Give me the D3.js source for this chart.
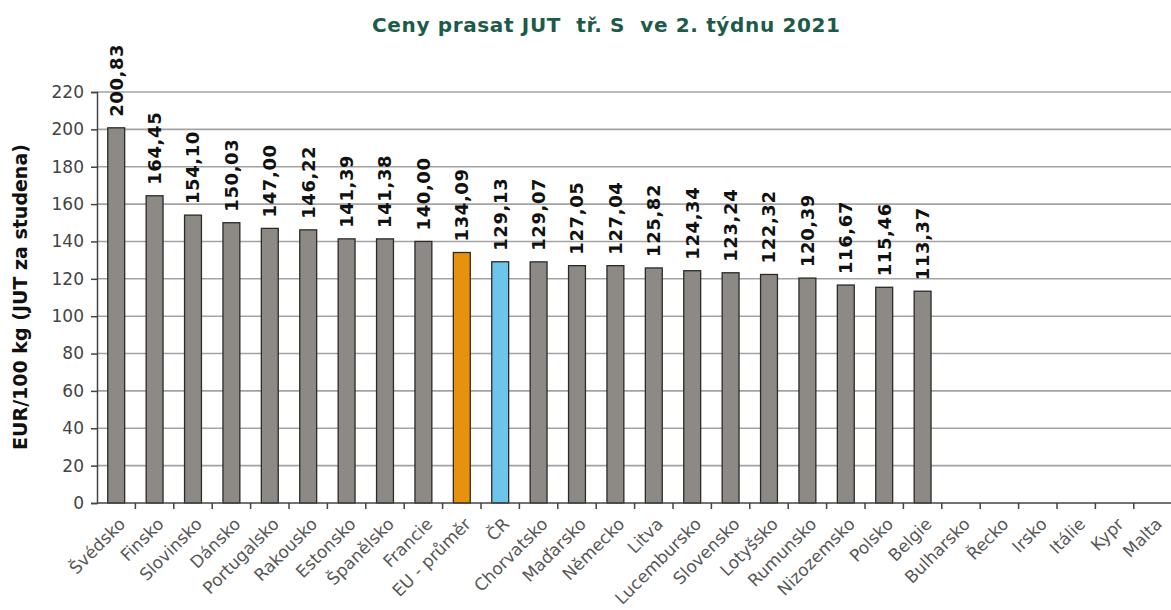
<!DOCTYPE html>
<html>
<head>
<meta charset="utf-8">
<script src="https://cdn.jsdelivr.net/npm/d3@7"></script>
<style>
  body { margin: 0; background: #fff; }
  svg { display: block; }
</style>
</head>
<body>
<script>
var width = 1171,
    height = 610;

var title = "Ceny prasat JUT  tř. S  ve 2. týdnu 2021";
var yTitle = "EUR/100 kg (JUT za studena)";

var countries = ["Švédsko", "Finsko", "Slovinsko", "Dánsko", "Portugalsko", "Rakousko",
    "Estonsko", "Španělsko", "Francie", "EU - průměr", "ČR", "Chorvatsko", "Maďarsko",
    "Německo", "Litva", "Lucembursko", "Slovensko", "Lotyšsko", "Rumunsko", "Nizozemsko",
    "Polsko", "Belgie", "Bulharsko", "Řecko", "Irsko", "Itálie", "Kypr", "Malta"];

var prices = [200.83, 164.45, 154.10, 150.03, 147.00, 146.22, 141.39, 141.38, 140.00,
    134.09, 129.13, 129.07, 127.05, 127.04, 125.82, 124.34, 123.24, 122.32, 120.39,
    116.67, 115.46, 113.37, null, null, null, null, null, null];

var yTicks = [0, 20, 40, 60, 80, 100, 120, 140, 160, 180, 200, 220];

var margin = {top: 92, left: 97, bottom: 107};

var x = d3.scaleBand()
    .domain(countries)
    .range([margin.left, margin.left + 38.4 * countries.length]);

var y = d3.scaleLinear()
    .domain([0, 220])
    .range([height - margin.bottom, margin.top]);

var barW = x.bandwidth() * 0.44;

function barColor(c) {
    if (c === "EU - průměr") return "#e8910c";
    if (c === "ČR") return "#6ec5e9";
    return "#8d8a85";
}

var cz = d3.formatLocale({decimal: ",", thousands: " ", grouping: [3], currency: ["", " €"]});
var fmt = cz.format(".2f");

var svg = d3.select("body").append("svg")
    .attr("width", width)
    .attr("height", height);

// title
svg.append("text")
    .attr("x", 606)
    .attr("y", 32)
    .attr("text-anchor", "middle")
    .style("white-space", "pre")
    .attr("textLength", 468)
    .attr("lengthAdjust", "spacing")
    .attr("font-family", "DejaVu Sans")
    .attr("font-weight", "bold")
    .attr("font-size", 20)
    .attr("fill", "#1c5b49")
    .text(title);

// gridlines
svg.append("g")
    .selectAll("line")
    .data(yTicks.filter(function(d) { return d > 0; }))
    .enter().append("line")
    .attr("x1", margin.left)
    .attr("x2", width)
    .attr("y1", function(d) { return y(d); })
    .attr("y2", function(d) { return y(d); })
    .attr("stroke", "#a3a3a3")
    .attr("stroke-width", 1.6);

// bars
svg.append("g")
    .selectAll("rect")
    .data(countries.filter(function(c, i) { return prices[i] != null; }))
    .enter().append("rect")
    .attr("x", function(c) { return x(c) + (x.bandwidth() - barW) / 2; })
    .attr("y", function(c) { return y(prices[countries.indexOf(c)]); })
    .attr("width", barW)
    .attr("height", function(c) { return y(0) - y(prices[countries.indexOf(c)]); })
    .attr("fill", barColor)
    .attr("stroke", "#2a2a2a")
    .attr("stroke-width", 1.3);

// value labels
svg.append("g")
    .selectAll("text")
    .data(countries.filter(function(c, i) { return prices[i] != null; }))
    .enter().append("text")
    .attr("transform", function(c) {
        var v = prices[countries.indexOf(c)];
        return "translate(" + (x(c) + x.bandwidth() / 2) + "," + (y(v) - 11) + ") rotate(-90)";
    })
    .attr("dy", "0.36em")
    .attr("font-family", "DejaVu Sans")
    .attr("font-weight", "bold")
    .attr("font-size", 18)
    .attr("letter-spacing", 0.6)
    .attr("fill", "#111")
    .text(function(c) { return fmt(prices[countries.indexOf(c)]); });

// y axis
var yAxis = svg.append("g")
    .attr("transform", "translate(" + margin.left + ",0)")
    .call(d3.axisLeft(y).tickValues(yTicks).tickSize(6).tickPadding(7));
yAxis.select(".domain").attr("stroke", "#444").attr("stroke-width", 1.5);
yAxis.selectAll(".tick line").attr("stroke", "#444").attr("stroke-width", 1.5);
yAxis.selectAll(".tick text")
    .attr("font-family", "DejaVu Sans")
    .attr("font-size", 17)
    .attr("fill", "#444");

// x axis
svg.append("line")
    .attr("x1", margin.left)
    .attr("x2", width)
    .attr("y1", y(0))
    .attr("y2", y(0))
    .attr("stroke", "#444")
    .attr("stroke-width", 1.5);

svg.append("g")
    .selectAll("line")
    .data(countries)
    .enter().append("line")
    .attr("x1", function(c) { return x(c) + x.bandwidth(); })
    .attr("x2", function(c) { return x(c) + x.bandwidth(); })
    .attr("y1", y(0))
    .attr("y2", y(0) + 6)
    .attr("stroke", "#444")
    .attr("stroke-width", 1.5);

svg.append("g")
    .selectAll("text")
    .data(countries)
    .enter().append("text")
    .attr("transform", function(c) {
        return "translate(" + (x(c) + x.bandwidth() / 2 + 6) + "," + (y(0) + 18) + ") rotate(-45)";
    })
    .attr("text-anchor", "end")
    .attr("dy", "0.35em")
    .attr("font-family", "DejaVu Sans")
    .attr("font-size", 17)
    .attr("fill", "#575757")
    .text(function(c) { return c; });

// y axis title
svg.append("text")
    .attr("transform", "translate(20,297) rotate(-90)")
    .attr("text-anchor", "middle")
    .attr("dy", "0.35em")
    .attr("font-family", "DejaVu Sans")
    .attr("font-weight", "bold")
    .attr("font-size", 19)
    .attr("fill", "#111")
    .text(yTitle);
</script>
</body>
</html>
